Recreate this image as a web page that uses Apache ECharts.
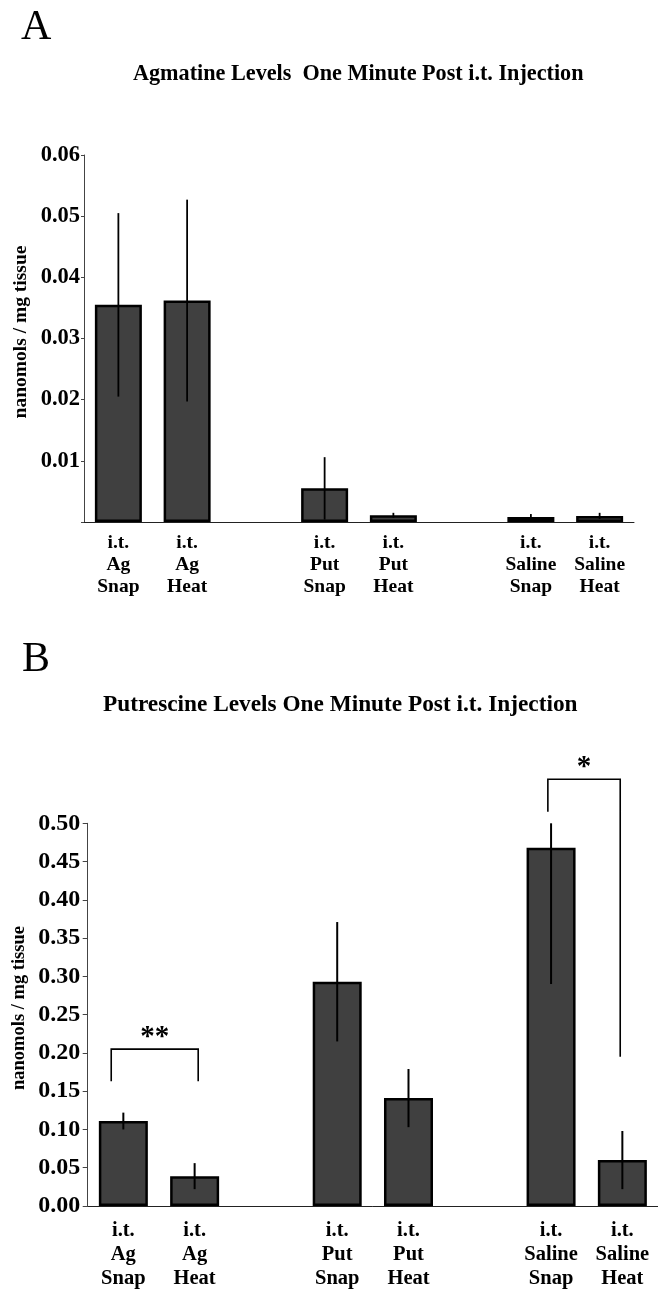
<!DOCTYPE html>
<html>
<head>
<meta charset="utf-8">
<script src="https://cdn.jsdelivr.net/npm/echarts@6/dist/echarts.min.js"></script>
<style>
  html, body { margin: 0; padding: 0; background: #fff; }
  #chart { width: 658px; height: 1291px; }
</style>
</head>
<body>
<div id="chart"></div>
<script>
// Treatment groups along the x axis; the blank entries are the gaps between pairs.
const categories = [
  'i.t.\nAg\nSnap', 'i.t.\nAg\nHeat', ' ',
  'i.t.\nPut\nSnap', 'i.t.\nPut\nHeat', '  ',
  'i.t.\nSaline\nSnap', 'i.t.\nSaline\nHeat'
];

// Panel A: agmatine, nanomols / mg tissue (mean and error)
const agmatineMean = [0.0355, 0.0362, null, 0.0055, 0.0011, null, 0.0008, 0.0010];
const agmatineErr  = [0.0150, 0.0165, null, 0.0051, 0.0004, null, 0.0005, 0.0005];

// Panel B: putrescine, nanomols / mg tissue (mean and error)
const putrescineMean = [0.111, 0.039, null, 0.293, 0.141, null, 0.468, 0.060];
const putrescineErr  = [0.011, 0.017, null, 0.078, 0.038, null, 0.178, 0.038];

// Value-axis ticks and their labels
const agmatineTicks = [0, 0.01, 0.02, 0.03, 0.04, 0.05, 0.06];
const agmatineTickLabels = ['', '0.01', '0.02', '0.03', '0.04', '0.05', '0.06'];
const putrescineTicks = [0, 0.05, 0.10, 0.15, 0.20, 0.25, 0.30, 0.35, 0.40, 0.45, 0.50];
const putrescineTickLabels = ['0.00', '0.05', '0.10', '0.15', '0.20', '0.25', '0.30', '0.35', '0.40', '0.45', '0.50'];

// Significance brackets in panel B: groups joined, bracket top, leg ends, mark
const bracketFrom = [0, 6];
const bracketTo = [1, 7];
const bracketTop = [0.205, 0.5575];
const bracketLeftEnd = [0.163, 0.515];
const bracketRightEnd = [0.163, 0.195];
const bracketMarks = ['**', '*'];

const TEXT_FONT = '"Liberation Serif", "Times New Roman", serif';
// Leg offsets as a fraction of a category band, for each bracket
const legShift = [[-0.17, 0.05], [-0.045, -0.03]];

function errorData(mean, err) {
  const out = [];
  mean.forEach((m, i) => { if (m !== null) out.push([i, m, err[i]]); });
  return out;
}

function makeErrorRenderer(axisMax, width) {
  return function (params, api) {
    const i = api.value(0), m = api.value(1), e = api.value(2);
    const top = api.coord([i, Math.min(m + e, axisMax)]);
    const bot = api.coord([i, Math.max(m - e, 0)]);
    return {
      type: 'line',
      shape: { x1: top[0], y1: top[1], x2: bot[0], y2: bot[1] },
      style: { stroke: '#000', lineWidth: width }
    };
  };
}

function renderBracket(params, api) {
  const k = params.dataIndex;
  const band = api.size([1, 0])[0];
  const from = api.value(0), top = api.value(1), to = api.value(2);
  const le = api.value(3), re = api.value(4);
  const pTop = api.coord([from, top]);
  const xl = pTop[0] + legShift[k][0] * band;
  const xr = api.coord([to, top])[0] + legShift[k][1] * band;
  const yTop = pTop[1];
  const yl = api.coord([from, le])[1];
  const yr = api.coord([to, re])[1];
  return {
    type: 'group',
    children: [
      {
        type: 'polyline',
        shape: { points: [[xl, yl], [xl, yTop], [xr, yTop], [xr, yr]] },
        style: { stroke: '#000', lineWidth: 1.6, fill: null }
      },
      {
        type: 'text',
        style: {
          text: bracketMarks[k],
          x: (xl + xr) / 2,
          y: yTop - 12,
          align: 'center',
          verticalAlign: 'middle',
          font: 'bold 29px ' + TEXT_FONT,
          fill: '#000'
        }
      }
    ]
  };
}

function xAxisFor(gridIndex, fontSize, lineHeight, margin) {
  return {
    gridIndex: gridIndex,
    type: 'category',
    data: categories,
    axisLine: { show: true, lineStyle: { color: '#222', width: 1 } },
    axisTick: { show: false },
    axisLabel: {
      interval: 0,
      margin: margin,
      color: '#000',
      fontFamily: TEXT_FONT,
      fontWeight: 'bold',
      fontSize: fontSize,
      lineHeight: lineHeight
    },
    splitLine: { show: false }
  };
}

function yAxisFor(gridIndex, ticks, labels, tickLen, margin, fontSize) {
  return {
    gridIndex: gridIndex,
    type: 'value',
    min: ticks[0],
    max: ticks[ticks.length - 1],
    interval: ticks[1] - ticks[0],
    axisLine: { show: true, lineStyle: { color: '#444', width: 1 } },
    axisTick: { show: true, length: tickLen, lineStyle: { color: '#444', width: 1 } },
    axisLabel: {
      margin: margin,
      color: '#000',
      fontFamily: TEXT_FONT,
      fontWeight: 'bold',
      fontSize: fontSize,
      formatter: function (v, idx) { return labels[idx] !== undefined ? labels[idx] : ''; }
    },
    splitLine: { show: false }
  };
}

const barStyle = { color: '#404040', borderColor: '#000', borderWidth: 2.5 };

const chart = echarts.init(document.getElementById('chart'), null, { renderer: 'canvas' });

chart.setOption({
  animation: false,
  backgroundColor: '#fff',
  textStyle: { fontFamily: TEXT_FONT },
  grid: [
    { left: 84, top: 155, width: 550, height: 367 },
    { left: 87.7, top: 823.3, width: 583, height: 383.4 }
  ],
  xAxis: [
    xAxisFor(0, 19.5, 22, 10),
    xAxisFor(1, 20.5, 24, 13)
  ],
  yAxis: [
    yAxisFor(0, agmatineTicks, agmatineTickLabels, 3, 4, 22.5),
    yAxisFor(1, putrescineTicks, putrescineTickLabels, 5, 7.5, 24)
  ],
  graphic: [
    { type: 'text', x: 21, y: 28, style: { text: 'A', font: '42px ' + TEXT_FONT, fill: '#000', align: 'left', verticalAlign: 'middle' } },
    { type: 'text', x: 133, y: 74.5, style: { text: 'Agmatine Levels  One Minute Post i.t. Injection', font: 'bold 22.2px ' + TEXT_FONT, fill: '#000', align: 'left', verticalAlign: 'middle' } },
    { type: 'text', x: 21, y: 332, rotation: Math.PI / 2, style: { text: 'nanomols / mg tissue', font: 'bold 19.5px ' + TEXT_FONT, fill: '#000', align: 'center', verticalAlign: 'middle' } },
    { type: 'text', x: 22, y: 660, style: { text: 'B', font: '42px ' + TEXT_FONT, fill: '#000', align: 'left', verticalAlign: 'middle' } },
    { type: 'text', x: 103, y: 705.3, style: { text: 'Putrescine Levels One Minute Post i.t. Injection', font: 'bold 23.3px ' + TEXT_FONT, fill: '#000', align: 'left', verticalAlign: 'middle' } },
    { type: 'text', x: 19, y: 1008, rotation: Math.PI / 2, style: { text: 'nanomols / mg tissue', font: 'bold 18.5px ' + TEXT_FONT, fill: '#000', align: 'center', verticalAlign: 'middle' } }
  ],
  series: [
    {
      name: 'Agmatine', type: 'bar', xAxisIndex: 0, yAxisIndex: 0,
      data: agmatineMean, barWidth: 47, itemStyle: barStyle
    },
    {
      name: 'Agmatine error', type: 'custom', xAxisIndex: 0, yAxisIndex: 0,
      data: errorData(agmatineMean, agmatineErr), encode: { x: 0, y: 1 },
      renderItem: makeErrorRenderer(agmatineTicks[agmatineTicks.length - 1], 1.8), z: 3
    },
    {
      name: 'Putrescine', type: 'bar', xAxisIndex: 1, yAxisIndex: 1,
      data: putrescineMean, barWidth: 49, itemStyle: barStyle
    },
    {
      name: 'Putrescine error', type: 'custom', xAxisIndex: 1, yAxisIndex: 1,
      data: errorData(putrescineMean, putrescineErr), encode: { x: 0, y: 1 },
      renderItem: makeErrorRenderer(putrescineTicks[putrescineTicks.length - 1], 2), z: 3
    },
    {
      name: 'Significance', type: 'custom', xAxisIndex: 1, yAxisIndex: 1, clip: false,
      data: bracketFrom.map((f, k) => [f, bracketTop[k], bracketTo[k], bracketLeftEnd[k], bracketRightEnd[k]]),
      encode: { x: [0, 2], y: [1, 3, 4] },
      renderItem: renderBracket, z: 4
    }
  ]
});
</script>
</body>
</html>
